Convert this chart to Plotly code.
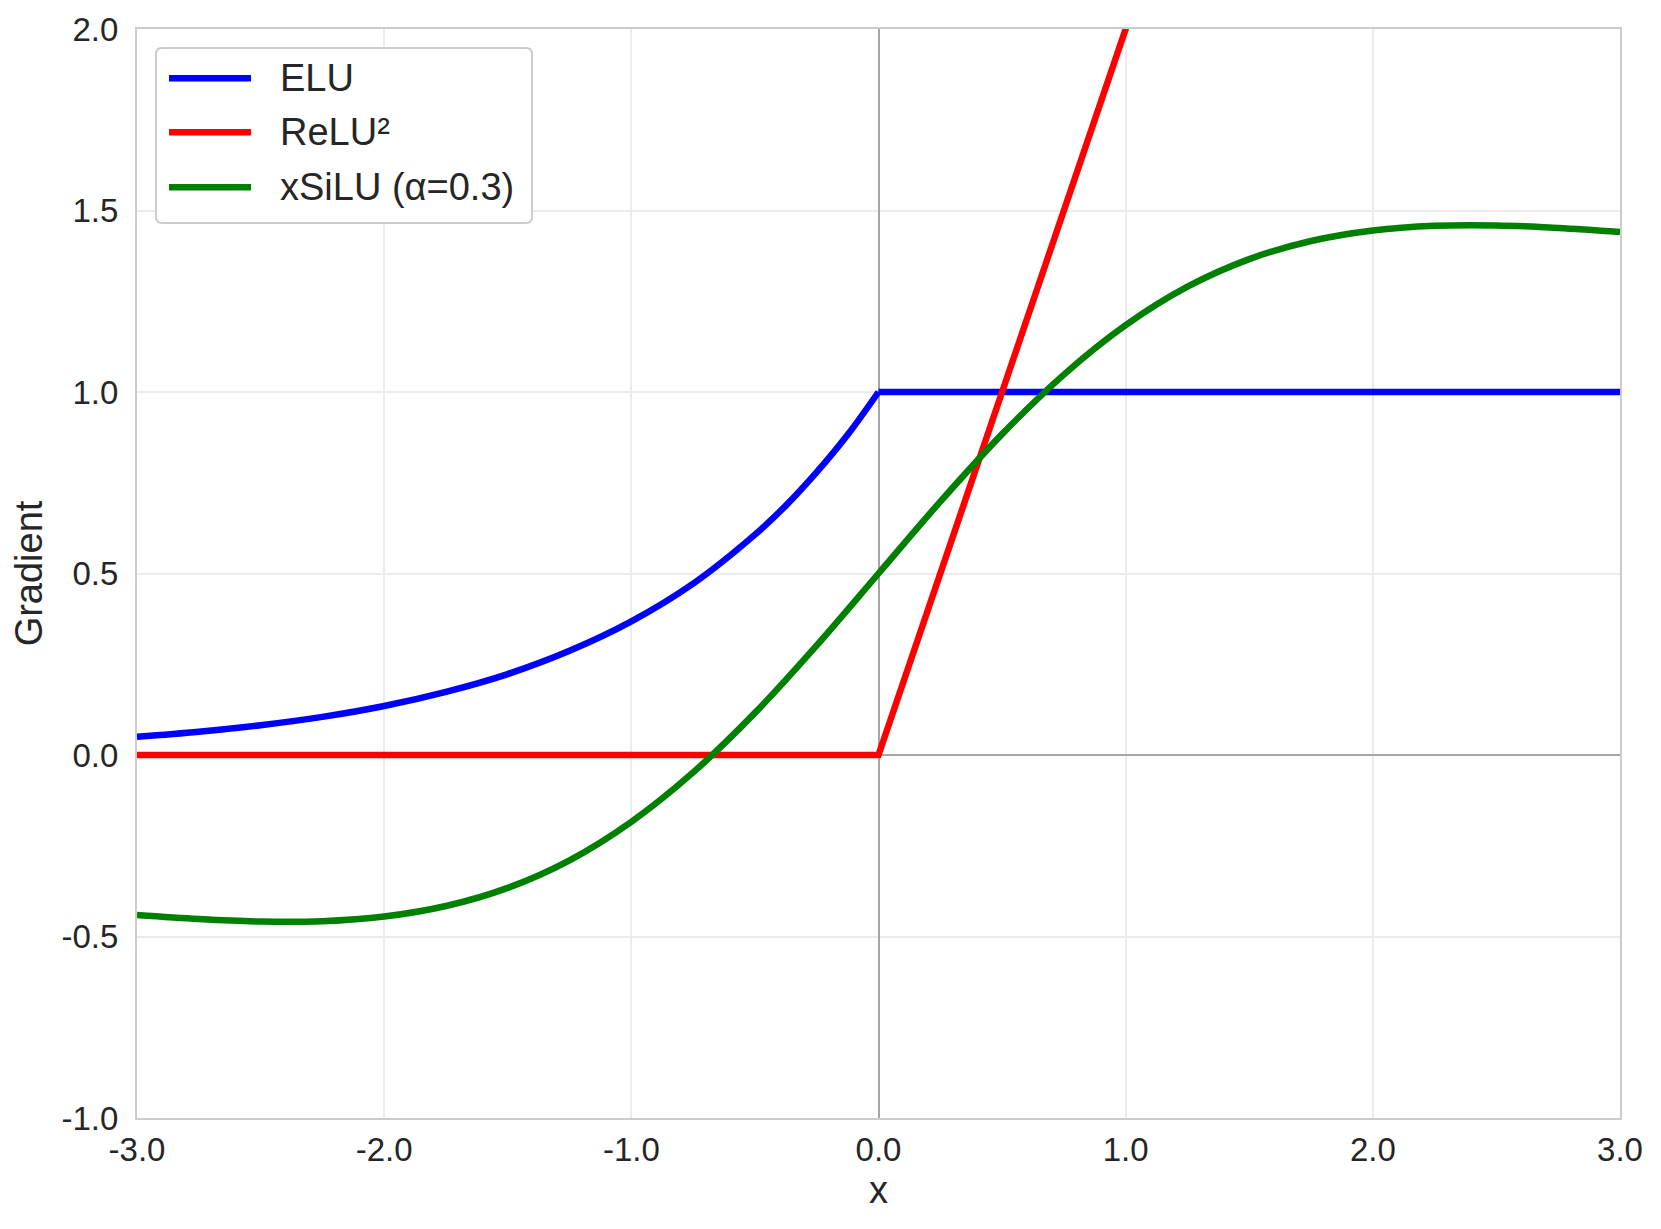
import plotly.graph_objects as go

# values
elu_x = [-3.0, -2.75, -2.5, -2.25, -2.0, -1.75, -1.5, -1.25, -1.0, -0.75, -0.5, -0.375, -0.25, -0.125, 0.0, 3.0]
elu_y = [0.050, 0.064, 0.082, 0.105, 0.135, 0.174, 0.223, 0.287, 0.368, 0.472, 0.607, 0.687, 0.779, 0.882, 1.0, 1.0]

relu2_x = [-3.0, 0.0, 1.0, 3.0]
relu2_y = [0.0, 0.0, 2.0, 6.0]

xsilu_x = [-3.0, -2.75, -2.5, -2.25, -2.0, -1.75, -1.5, -1.25, -1.0, -0.75, -0.5, -0.25,
           0.0, 0.25, 0.5, 0.75, 1.0, 1.25, 1.5, 1.75, 2.0, 2.25, 2.5, 2.75, 3.0]
xsilu_y = [-0.441, -0.452, -0.459, -0.458, -0.445, -0.416, -0.366, -0.290, -0.184, -0.048, 0.116, 0.302,
           0.5, 0.698, 0.884, 1.048, 1.184, 1.290, 1.366, 1.416, 1.445, 1.458, 1.459, 1.452, 1.441]

names = ["ELU", "ReLU²", "xSiLU (α=0.3)"]
colors = ["#0000ff", "#ff0000", "#008000"]

x_ticks = [-3, -2, -1, 0, 1, 2, 3]
x_labels = ["-3.0", "-2.0", "-1.0", "0.0", "1.0", "2.0", "3.0"]
y_ticks = [-1, -0.5, 0, 0.5, 1, 1.5, 2]
y_labels = ["-1.0", "-0.5", "0.0", "0.5", "1.0", "1.5", "2.0"]

font = "Liberation Sans, Arial, sans-serif"
txt = "#262626"
lw = 6.5

# page body has an 8px margin, so the figure is 16px smaller than the window
W, H = 1645, 1213
L, T, R, B = 129, 21, 33, 103
pw, ph = W - L - R, H - T - B

def fx(p):  # window pixel -> paper x
    return (p - 8 - L) / pw

def fy(p):  # window pixel -> paper y
    return 1 - (p - 8 - T) / ph

fig = go.Figure()

# ELU: curved part as spline, flat part straight (kink at 0)
neg = [i for i, v in enumerate(elu_x) if v <= 0]
pos = [i for i, v in enumerate(elu_x) if v >= 0]
fig.add_trace(go.Scatter(x=[elu_x[i] for i in neg], y=[elu_y[i] for i in neg], mode="lines",
                         name=names[0], showlegend=False,
                         line=dict(color=colors[0], width=lw, shape="spline")))
fig.add_trace(go.Scatter(x=[elu_x[i] for i in pos], y=[elu_y[i] for i in pos], mode="lines",
                         name=names[0], showlegend=False,
                         line=dict(color=colors[0], width=lw)))
fig.add_trace(go.Scatter(x=relu2_x, y=relu2_y, mode="lines", name=names[1], showlegend=False,
                         line=dict(color=colors[1], width=lw)))
fig.add_trace(go.Scatter(x=xsilu_x, y=xsilu_y, mode="lines", name=names[2], showlegend=False,
                         line=dict(color=colors[2], width=lw, shape="spline")))

axis_common = dict(
    automargin=False,
    showline=True, linecolor="#cccccc", linewidth=2, mirror=True,
    showgrid=True, gridcolor="#ebebeb", gridwidth=1.5,
    zeroline=True, zerolinecolor="#a6a6a6", zerolinewidth=1.5,
    ticks="", tickfont=dict(family=font, size=33, color=txt),
)

fig.update_xaxes(range=[-3, 3], tickvals=x_ticks, ticktext=x_labels, ticklabelstandoff=1,
                 title=dict(text="x", font=dict(family=font, size=38, color=txt), standoff=10),
                 **axis_common)
fig.update_yaxes(range=[-1, 2], tickvals=y_ticks, ticktext=y_labels, ticklabelstandoff=10,
                 title=dict(text="Gradient", font=dict(family=font, size=38, color=txt), standoff=7),
                 **axis_common)

# legend box drawn by hand (rounded frame, long line samples)
x0, x1, y0, y1 = fx(156), fx(532), fy(223), fy(48)
rx, ry = 6 / pw, 6 / ph
box = (f"M{x0+rx},{y1} L{x1-rx},{y1} Q{x1},{y1} {x1},{y1-ry} L{x1},{y0+ry} Q{x1},{y0} {x1-rx},{y0} "
       f"L{x0+rx},{y0} Q{x0},{y0} {x0},{y0+ry} L{x0},{y1-ry} Q{x0},{y1} {x0+rx},{y1} Z")
shapes = [dict(type="path", path=box, xref="paper", yref="paper", layer="above",
               fillcolor="white", line=dict(color="#cccccc", width=2))]
annotations = []
rows = [78.3, 132.3, 187.3]
for name, col, ry_px in zip(names, colors, rows):
    shapes.append(dict(type="line", xref="paper", yref="paper", layer="above",
                       x0=fx(169), x1=fx(251), y0=fy(ry_px), y1=fy(ry_px),
                       line=dict(color=col, width=lw)))
    annotations.append(dict(text=name, xref="paper", yref="paper", x=fx(278), y=fy(ry_px),
                            xanchor="left", yanchor="middle", showarrow=False,
                            font=dict(family=font, size=38, color=txt)))

fig.update_layout(
    width=W, height=H,
    margin=dict(l=L, r=R, t=T, b=B),
    plot_bgcolor="white", paper_bgcolor="white",
    font=dict(family=font, color=txt),
    showlegend=False,
    shapes=shapes, annotations=annotations,
)

fig.write_html("out.html")
